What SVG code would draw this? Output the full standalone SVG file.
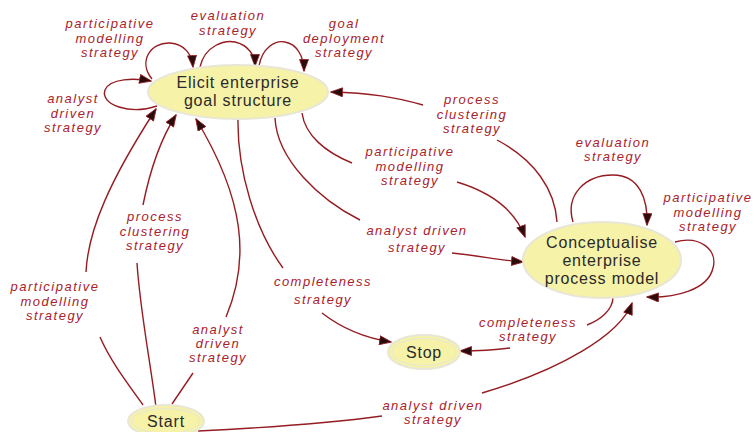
<svg xmlns="http://www.w3.org/2000/svg" width="755" height="432" viewBox="0 0 755 432">
<defs>
<marker id="ah" markerWidth="14" markerHeight="11" refX="12" refY="5" orient="auto" markerUnits="userSpaceOnUse">
<path d="M0.5,0.5 L12.5,5 L0.5,9.5 z" fill="#2a0c0c" stroke="#951c21" stroke-width="0.8"/>
</marker>
</defs>
<style>
.node{fill:#f6f2a8;stroke:#e8e6d6;stroke-width:2}
.inner{fill:none;stroke:#e8e6d6;stroke-width:1}
.nt{font-family:"Liberation Sans",Arial,sans-serif;font-size:16px;letter-spacing:0.8px;fill:#2a2a2a;text-anchor:middle}
.lb{font-family:"Liberation Sans",Arial,sans-serif;font-size:13px;font-style:italic;letter-spacing:1.5px;fill:#a8222c;text-anchor:middle}
.e{fill:none;stroke:#951c21;stroke-width:1.4}
.a{marker-end:url(#ah)}
</style>
<rect width="755" height="432" fill="#ffffff"/>
<g id="connectors">
<path class="e a" d="M152,79 C138,62 150,42 170,43 C185,44 192,55 193,67"/>
<path class="e a" d="M157,106 C130,115 100,105 105,90 C110,78 135,78 151,81"/>
<path class="e a" d="M200,67 C205,45 225,40 235,42 C248,45 255,55 255,66"/>
<path class="e a" d="M259,66 C262,48 275,40 285,42 C297,44 304,57 304,71"/>
<path class="e" d="M557,222 C555,190 535,160 497,140"/>
<path class="e a" d="M423,105 C395,97 370,93 331,92"/>
<path class="e" d="M302,113 C305,135 325,152 352,163"/>
<path class="e a" d="M457,182 C490,192 515,210 525,237"/>
<path class="e" d="M275,118 C277,160 320,200 360,220"/>
<path class="e a" d="M452,253 C480,256 500,260 523,262"/>
<path class="e" d="M238,118 C237,170 255,230 283,268"/>
<path class="e a" d="M322,313 C340,327 365,338 391,342"/>
<path class="e" d="M613,297 C613,310 600,320 587,325"/>
<path class="e a" d="M510,348 C495,350 480,351 460,351"/>
<path class="e" d="M198,431 C260,428 330,423 382,416"/>
<path class="e a" d="M482,393 C560,370 620,335 632,303"/>
<path class="e a" d="M573,222 C565,195 585,175 613,175 C640,175 648,200 647,225"/>
<path class="e a" d="M675,242 C700,235 718,250 713,268 C708,290 675,298 647,297"/>
<path class="e" d="M143,405 C125,380 110,360 100,337"/>
<path class="e a" d="M86,272 C88,230 110,180 156,109"/>
<path class="e" d="M156,407 C150,360 140,310 137,263"/>
<path class="e a" d="M143,205 C150,170 160,140 176,115"/>
<path class="e" d="M172,404 L193,373"/>
<path class="e a" d="M226,317 C250,260 245,200 196,119"/>
</g>
<g id="labels">
<text class="lb" x="110" y="28">participative</text><text class="lb" x="110" y="42.5">modelling</text><text class="lb" x="110" y="57">strategy</text>
<text class="lb" x="228" y="20">evaluation</text><text class="lb" x="228" y="35">strategy</text>
<text class="lb" x="344" y="28">goal</text><text class="lb" x="344" y="42.5">deployment</text><text class="lb" x="344" y="57">strategy</text>
<text class="lb" x="73" y="103">analyst</text><text class="lb" x="73" y="117.5">driven</text><text class="lb" x="73" y="132">strategy</text>
<text class="lb" x="472" y="104">process</text><text class="lb" x="472" y="118.5">clustering</text><text class="lb" x="472" y="133">strategy</text>
<text class="lb" x="410" y="156">participative</text><text class="lb" x="410" y="170.5">modelling</text><text class="lb" x="410" y="185">strategy</text>
<text class="lb" x="417" y="235">analyst driven</text><text class="lb" x="417" y="252">strategy</text>
<text class="lb" x="323" y="286">completeness</text><text class="lb" x="323" y="304">strategy</text>
<text class="lb" x="528" y="327">completeness</text><text class="lb" x="528" y="341">strategy</text>
<text class="lb" x="433" y="410">analyst driven</text><text class="lb" x="433" y="424">strategy</text>
<text class="lb" x="613" y="147">evaluation</text><text class="lb" x="613" y="161">strategy</text>
<text class="lb" x="708" y="202">participative</text><text class="lb" x="708" y="216.5">modelling</text><text class="lb" x="708" y="231">strategy</text>
<text class="lb" x="55" y="291">participative</text><text class="lb" x="55" y="305.5">modelling</text><text class="lb" x="55" y="320">strategy</text>
<text class="lb" x="155" y="221">process</text><text class="lb" x="155" y="235.5">clustering</text><text class="lb" x="155" y="250">strategy</text>
<text class="lb" x="218" y="334">analyst</text><text class="lb" x="218" y="348">driven</text><text class="lb" x="218" y="362">strategy</text>
</g>
<g id="elicit">
<ellipse class="node" cx="238" cy="92" rx="90" ry="27"/>
<text class="nt" x="238" y="88">Elicit enterprise</text>
<text class="nt" x="238" y="106">goal structure</text>
</g>
<g id="conceptualise">
<ellipse class="node" cx="602" cy="260" rx="79" ry="38"/>
<text class="nt" x="602" y="248">Conceptualise</text>
<text class="nt" x="602" y="266">enterprise</text>
<text class="nt" x="602" y="284">process model</text>
</g>
<g id="stop">
<ellipse class="node" cx="424" cy="352" rx="36" ry="17"/>
<ellipse class="inner" cx="424" cy="352" rx="32" ry="13.5"/>
<text class="nt" x="424" y="358">Stop</text>
</g>
<g id="start">
<ellipse class="node" cx="166" cy="421" rx="38" ry="16"/>
<ellipse class="inner" cx="166" cy="421" rx="34" ry="12.5"/>
<text class="nt" x="166" y="427">Start</text>
</g>
</svg>
